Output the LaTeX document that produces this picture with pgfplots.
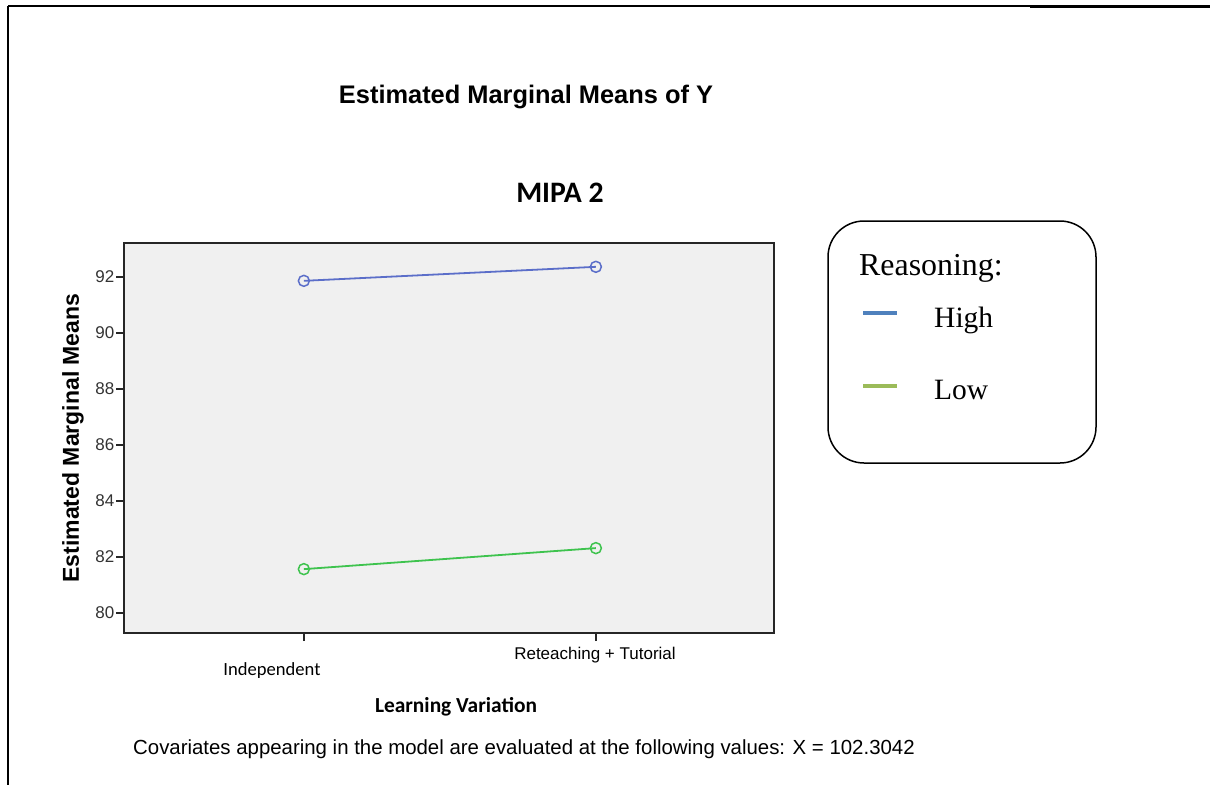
\documentclass[border=0pt]{standalone}
\usepackage{fontspec}
\setmainfont{Liberation Sans}
\newfontfamily\calibri{Carlito}
\newfontfamily\timesfont{Liberation Serif}
\usepackage{pgfplots}
\usepackage{pgfplotstable}
\pgfplotsset{compat=1.18}
\definecolor{plotbg}{HTML}{F0F0F0}
\definecolor{highline}{HTML}{5B6EC9}
\definecolor{lowline}{HTML}{3EC34E}
\definecolor{leghigh}{HTML}{4F81BD}
\definecolor{leglow}{HTML}{9BBB59}
\pgfplotstableread{
x high low
0 91.86 81.57
1 92.36 82.32
}\datatable
\begin{document}
\begin{tikzpicture}
\path[use as bounding box] (0pt,0pt) rectangle (1210pt,-785pt);
% page frame fragments
\draw[line width=1.5pt] (8pt,-6pt) -- (1030pt,-6pt);
\draw[line width=3pt] (1030pt,-6.5pt) -- (1210pt,-6.5pt);
\draw[line width=2pt] (8pt,-6pt) -- (8pt,-785pt);
\begin{axis}[
  at={(124pt,-633pt)}, anchor=south west,
  scale only axis, width=650pt, height=390pt,
  xmin=-0.616, xmax=1.610, ymin=79.29, ymax=93.21,
  axis background/.style={fill=plotbg},
  axis line style={line width=1.8pt, black!85},
  tick pos=left, tick align=outside,
  major tick length=8pt,
  tick style={line width=1.4pt, black!85},
  xtick={0,1}, xticklabels={},
  ytick={80,82,84,86,88,90,92},
  /pgf/number format/assume math mode=true,
  yticklabel style={font=\fontsize{17}{20}\selectfont, text=black!80, inner sep=1.5pt},
  clip=false,
]
\addplot[highline, line width=1.8pt, mark=o, mark size=5.5pt, mark options={line width=1.5pt}] table[x=x, y=high] {\datatable};
\addplot[lowline, line width=1.8pt, mark=o, mark size=5.5pt, mark options={line width=1.5pt}] table[x=x, y=low] {\datatable};
\end{axis}
% x tick labels
\node[font=\calibri\fontsize{18.6}{21}\selectfont] at (272pt,-671pt) {Independent};
\node[font=\fontsize{17}{20}\selectfont] at (595pt,-655pt) {Reteaching + Tutorial};
% axis labels
\node[font=\calibri\bfseries\fontsize{21.4}{25}\selectfont] at (456pt,-707pt) {Learning Variation};
\node[font=\bfseries\fontsize{23}{27}\selectfont, rotate=90] at (73pt,-438pt) {Estimated Marginal Means};
% titles
\node[font=\bfseries\fontsize{25.4}{30}\selectfont] at (526pt,-97pt) {Estimated Marginal Means of Y};
\node[font=\calibri\bfseries\fontsize{29.7}{34}\selectfont] at (560pt,-193pt) {MIPA 2};
% footnote
\node[font=\fontsize{20.4}{24}\selectfont, anchor=west, inner sep=0pt] at (133pt,-749pt) {Covariates appearing in the model are evaluated at the following values: X = 102.3042};
% legend box
\draw[line width=1.5pt, rounded corners=36pt] (828pt,-221pt) rectangle (1096pt,-463pt);
\node[font=\timesfont\fontsize{31.9}{36}\selectfont, anchor=west, inner sep=0pt] at (859pt,-268pt) {Reasoning:};
\draw[leghigh, line width=4.5pt] (863pt,-313pt) -- (897pt,-313pt);
\node[font=\timesfont\fontsize{29.5}{34}\selectfont, anchor=west, inner sep=0pt] at (934pt,-320pt) {High};
\draw[leglow, line width=4.5pt] (863pt,-386pt) -- (897pt,-386pt);
\node[font=\timesfont\fontsize{29.5}{34}\selectfont, anchor=west, inner sep=0pt] at (934pt,-390pt) {Low};
\end{tikzpicture}
\end{document}
